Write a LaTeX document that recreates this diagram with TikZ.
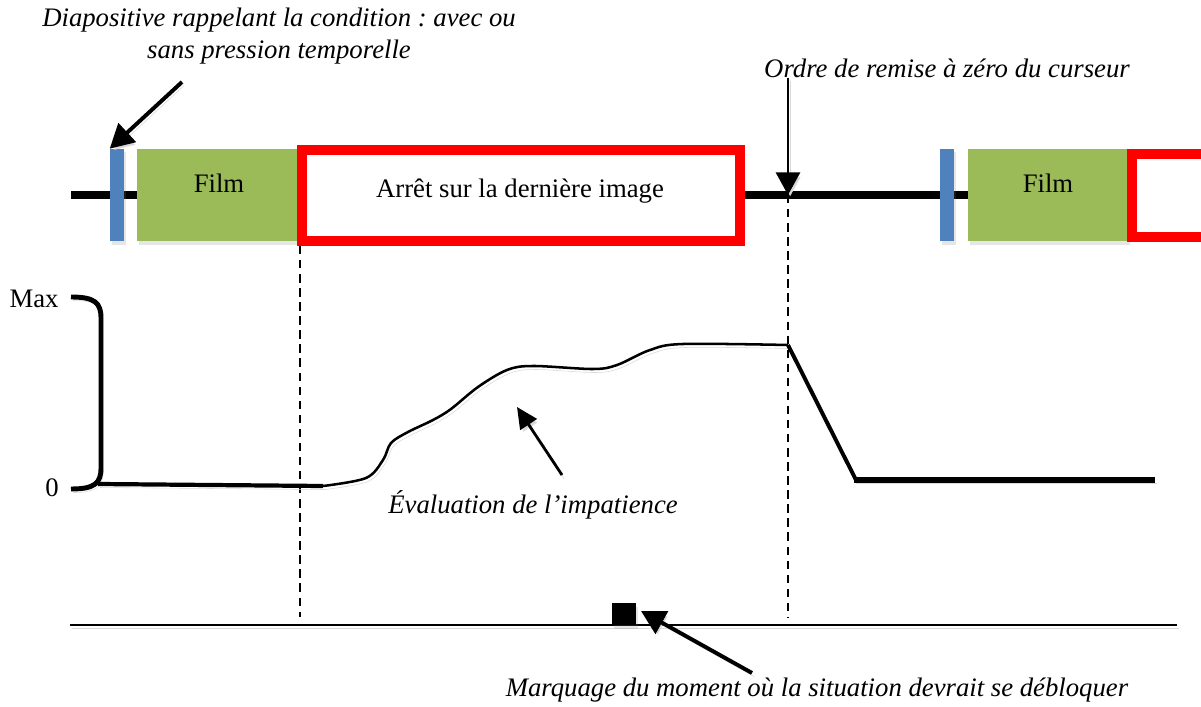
\documentclass[tikz,border=0pt]{standalone}
\usepackage{fontspec}
\setmainfont{Liberation Serif}
\frenchspacing
\usetikzlibrary{arrows.meta}
\usetikzlibrary{shadows}
\definecolor{filmgreen}{HTML}{9BBB59}
\definecolor{slideblue}{HTML}{4F81BD}
\tikzset{
	note/.style={font=\fontsize{19}{23}\selectfont\itshape, inner sep=0pt},
	boxtext/.style={font=\fontsize{19}{23}\selectfont, inner sep=0pt},
	softshadow/.style={drop shadow={shadow xshift=1.5pt, shadow yshift=-2.5pt, opacity=0.2}},
	lineshadow/.style={preaction={draw=black!15, transform canvas={shift={(1.5pt,-2.5pt)}}}},
	slidebar/.style={fill=slideblue, minimum width=0.35cm, minimum height=2.3cm, inner sep=0pt, softshadow},
	filmbox/.style={fill=filmgreen, minimum width=4cm, minimum height=2.3cm, inner sep=0pt, softshadow},
	callout/.style={line width=2.8pt, -{Triangle[length=17pt, width=18pt]}, lineshadow},
	guide/.style={line width=1.4pt, dash pattern=on 6pt off 4pt}
}

\begin{document}
\begin{tikzpicture}[x=0.025cm, y=-0.025cm]
		\useasboundingbox (0,0) rectangle (1201,707);
		% time line with the slides, films and freezes
		\draw[line width=5pt, lineshadow] (71,195) -- (1130,195);
		\node[slidebar] (bar1) at (117,195) {};
		\node[filmbox] (film1) at (217,195) {};
		\node[boxtext, anchor=base] (film1text) at (219,193) {Film};
		\node[draw=red, fill=white, line width=7pt, minimum width=10.95cm, minimum height=2.275cm, inner sep=0pt, softshadow] (freeze1) at (521,195.5) {};
		\node[boxtext, anchor=base] (freeze1text) at (520,198) {Arrêt sur la dernière image};
		\node[slidebar] (bar2) at (947,195) {};
		\node[filmbox] (film2) at (1048,195) {};
		\node[boxtext, anchor=base] (film2text) at (1048,193) {Film};
		\draw[red, line width=6.5pt, lineshadow] (1210,154) -- (1132,154) -- (1132,237) -- (1210,237);
		% notes above
		\node[note, align=center] (slidenote) at (279,36) {Diapositive rappelant la condition : avec ou\\sans pression temporelle};
		\coordinate (slidetail) at (182,82);
		\draw[callout] (slidetail) -- (bar1.north west);
		\node[note] (resetnote) at (947,68) {Ordre de remise à zéro du curseur};
		\coordinate (resetpt) at (788,195);
		\draw[line width=2pt, -{Triangle[length=16pt, width=17pt]}, lineshadow] (resetpt |- resetnote.south) -- (resetpt);
		% guides
		\coordinate (freezestart) at (300,246);
		\draw[guide] (freezestart) -- (300,617);
		\draw[guide] (resetpt) -- (788,617);
		% impatience scale
		\node[boxtext] (maxlabel) at (34,299) {Max};
		\node[boxtext] (zerolabel) at (52,488) {0};
		\draw[line width=3.5pt, lineshadow] (71,297) .. controls (95,297) and (101,303) .. (101,318) -- (101,468) .. controls (101,483) and (95,489) .. (71,489);
		\draw[line width=3pt, lineshadow] (98,484) -- (323,486);
		\draw[line width=1.8pt, lineshadow] plot[smooth, tension=0.55] coordinates {(323,486) (366,478) (383,460) (391,443) (408,432) (433,420) (451,409) (478,387) (507,370) (533,366) (593,369) (617,365) (650,350) (683,344) (788,345)};
		\draw[line width=2.8pt, lineshadow] (788,345) -- (856,480);
		\draw[line width=4.3pt, lineshadow] (854,480) -- (1155,480);
		\node[note] (evalnote) at (533,505) {Évaluation de l’impatience};
		\coordinate (evaltail) at (562,475);
		\coordinate (evaltip) at (517,407);
		\draw[line width=2pt, -{Triangle[length=15pt, width=14pt]}, lineshadow] (evaltail) -- (evaltip);
		% bottom line
		\draw[line width=1.4pt, lineshadow] (70,625) -- (1177,625);
		\node[fill=black, minimum width=0.6cm, minimum height=0.55cm, inner sep=0pt, softshadow] (unblock) at (624,614) {};
		\node[note] (unblocknote) at (817,690) {Marquage du moment où la situation devrait se débloquer};
		\coordinate (unblocktail) at (752,673);
		\coordinate (unblocktip) at (641,611);
		\draw[callout] (unblocktail) -- (unblocktip);
	\end{tikzpicture}
\end{document}
